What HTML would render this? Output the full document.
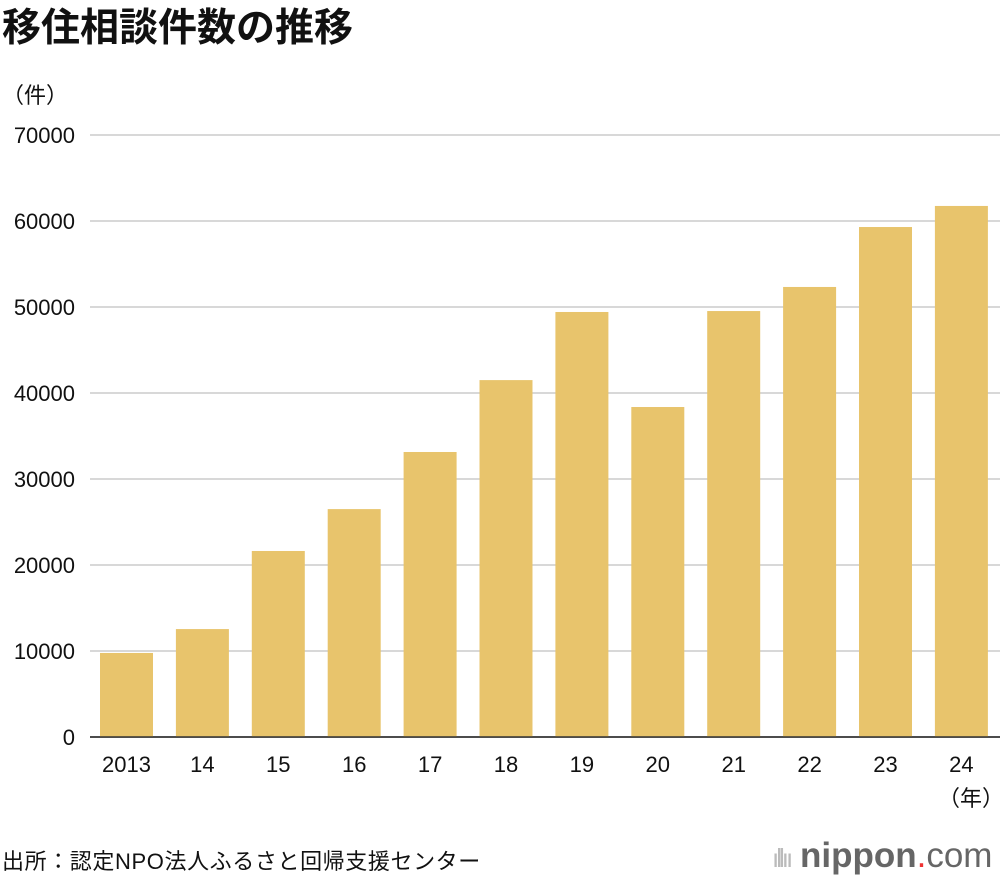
<!DOCTYPE html>
<html><head><meta charset="utf-8">
<style>
body{margin:0;width:1000px;height:880px;background:#fff;font-family:"Liberation Sans","Noto Sans CJK JP",sans-serif;overflow:hidden;position:relative}
.t{position:absolute;white-space:nowrap}
</style></head><body>
<div class="t" style="left:2px;top:-3px;font-size:39px;font-weight:bold;color:#111">移住相談件数の推移</div>
<div class="t" style="left:2px;top:78px;font-size:22px;color:#111">（件）</div>
<svg id="chart" width="1000" height="880" style="position:absolute;left:0;top:0"></svg>
<div class="t" style="left:938px;top:781px;font-size:22px;color:#111">（年）</div>
<div class="t" style="left:2px;top:844px;font-size:22px;color:#111;letter-spacing:0.6px">出所：認定NPO法人ふるさと回帰支援センター</div>
<div class="t" style="left:772px;top:836px;font-size:35px;color:#666"><span style="color:#bbb;font-size:26px;letter-spacing:-3px">ıllıı</span> <b>nippon</b><span style="color:#e33">.</span>com</div>
<script>
const categories=["2013","14","15","16","17","18","19","20","21","22","23","24"];
const values=[9770,12550,21630,26500,33140,41500,49420,38370,49530,52330,59300,61750];
const ticks=[0,10000,20000,30000,40000,50000,60000,70000];
const svg=document.getElementById('chart');
const NS='http://www.w3.org/2000/svg';
const y0=737,pxPer=86/10000,x0=100,pitch=75.9,bw=53;
const y=v=>y0-v*pxPer;
function mk(t,a){const e=document.createElementNS(NS,t);for(const k in a)e.setAttribute(k,a[k]);svg.appendChild(e);return e;}
ticks.forEach(v=>{
  const l=mk('line',{x1:90,x2:1000,y1:y(v),y2:y(v),stroke:v===0?'#333':'#ccc','stroke-width':1.5});
  
  
  const t=mk('text',{x:75,y:y(v)+8,'text-anchor':'end','font-size':22,fill:'#111'});
  t.textContent=v;
  
  
});
categories.forEach((c,i)=>{
  const x=x0+i*pitch;
  const r=mk('rect',{x:x,y:y(values[i]),width:bw,height:y0-y(values[i]),fill:'#e8c46c'});
  
  
  const t=mk('text',{x:x+bw/2,y:772,'text-anchor':'middle','font-size':22,fill:'#111'});
  t.textContent=c;
  
  
});
mk('line',{x1:90,x2:1000,y1:y0,y2:y0,stroke:'#333','stroke-width':1.5});
</script>
</body></html>
